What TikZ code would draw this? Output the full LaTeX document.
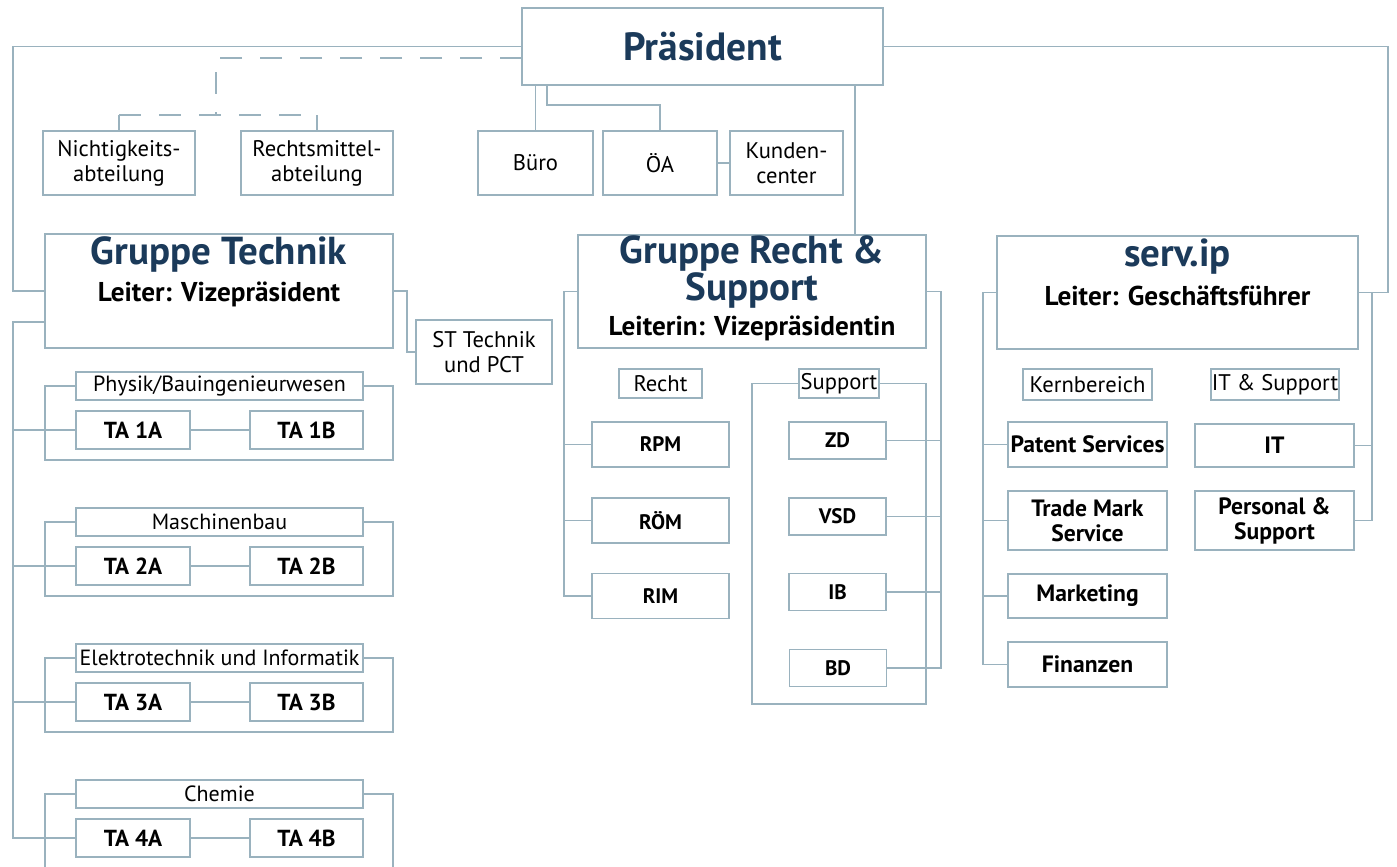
\documentclass[tikz,border=0pt]{standalone}
\usepackage{fontspec}
\setmainfont{PT Sans}

\definecolor{linie}{HTML}{9AB2BE}
\definecolor{titel}{HTML}{1B3A5A}

\tikzset{
  verb/.style={draw=linie, line width=0.9pt},
  verbd/.style={verb, dash pattern=on 11pt off 9pt},
  box/.style={draw=linie, line width=0.9pt, fill=white, inner sep=0pt, align=center,
    font=\fontsize{11.3}{12.5}\selectfont},
  klein/.style={box, minimum height=32pt},
  unit/.style={box, font=\bfseries\fontsize{10.5}{12}\selectfont},
  sipunit/.style={box, minimum width=79.5pt, font=\bfseries\fontsize{11.8}{12.5}\selectfont},
  ta/.style={box, minimum height=19pt, font=\bfseries\fontsize{11.6}{12}\selectfont},
  fachbox/.style={box, minimum width=143.5pt, minimum height=14pt, font=\fontsize{11}{12}\selectfont},
  gruppe/.style={inner sep=0pt, align=center, text=titel, font=\bfseries\fontsize{19.5}{16}\selectfont},
  leiter/.style={inner sep=0pt, font=\bfseries\fontsize{13.6}{15}\selectfont}
}

\begin{document}
\begin{tikzpicture}[x=0.5pt, y=-0.5pt]
  \path[use as bounding box] (0,0) rectangle (1397,867);

  % Praesident and staff units
  \node[box, minimum width=180.5pt, minimum height=38.5pt, text=titel,
    font=\bfseries\fontsize{19.7}{22}\selectfont] (pres) at (702.5,46.5) {Präsident};
  \node[klein, minimum width=76pt] (nicht) at (119,163) {Nichtigkeits-\\abteilung};
  \node[klein, minimum width=76pt] (rechts) at (317,163) {Rechtsmittel-\\abteilung};
  \node[klein, minimum width=57.5pt] (buero) at (535.5,163) {Büro};
  \node[klein, minimum width=57pt] (oea) at (660,163) {ÖA};
  \node[klein, minimum width=56.5pt] (kunden) at (786.5,163) {Kunden-\\center};

  % Gruppe Technik
  \node[box, minimum width=174pt, minimum height=57pt] (gt) at (219,291) {};
  \node[gruppe] (gtT) at (219,254) {Gruppe Technik};
  \node[leiter] (gtL) at (219,294) {Leiter: Vizepräsident};
  \node[klein, minimum width=68pt] (st) at (484,352) {ST Technik\\und PCT};

  % Gruppe Recht & Support
  \node[box, minimum width=174pt, minimum height=56.5pt] (grs) at (752,291.5) {};
  \node[gruppe] (grsT) at (752,272) {Gruppe Recht \&\\Support};
  \node[leiter] (grsL) at (752,328) {Leiterin: Vizepräsidentin};
  \node[box, minimum width=41.5pt, minimum height=14.5pt] (recht) at (660.5,383.5) {Recht};
  \node[unit, minimum width=68.5pt, minimum height=22.5pt] (rpm) at (660.5,444.5) {RPM};
  \node[unit, minimum width=68.5pt, minimum height=22.5pt] (roem) at (660.5,520.5) {RÖM};
  \node[unit, minimum width=68.5pt, minimum height=22.5pt] (rim) at (660.5,596) {RIM};
  \node[box, minimum width=40pt, minimum height=14.5pt] (support) at (839,383.5) {Support};
  \node[unit, minimum width=48.5pt, minimum height=18.5pt] (zd) at (837.5,440.5) {ZD};
  \node[unit, minimum width=48.5pt, minimum height=18.5pt] (vsd) at (837.5,516.5) {VSD};
  \node[unit, minimum width=48.5pt, minimum height=18.5pt] (ib) at (837.5,592) {IB};
  \node[unit, minimum width=48.5pt, minimum height=18.5pt] (bd) at (838,668) {BD};

  % serv.ip
  \node[box, minimum width=180.5pt, minimum height=56.5pt] (sip) at (1177.5,292.5) {};
  \node[gruppe] (sipT) at (1177.5,257) {serv.ip};
  \node[leiter] (sipL) at (1177.5,296) {Leiter: Geschäftsführer};
  \node[box, minimum width=64.5pt, minimum height=15.5pt] (kern) at (1087.5,384.5) {Kernbereich};
  \node[box, minimum width=64pt, minimum height=15.5pt] (itsup) at (1275,384.5) {IT \& Support};
  \node[sipunit, minimum height=22.5pt] (patent) at (1087.5,444.5) {Patent Services};
  \node[sipunit, minimum height=29.5pt] (trade) at (1087.5,520.5) {Trade Mark\\Service};
  \node[sipunit, minimum height=22pt] (mark) at (1087.5,596) {Marketing};
  \node[sipunit, minimum height=22.5pt] (fin) at (1087.5,664.5) {Finanzen};
  \node[sipunit, minimum height=21.5pt] (it) at (1274.5,445.5) {IT};
  \node[sipunit, minimum height=29.5pt] (pers) at (1274.5,520.5) {Personal \&\\Support};

  % Technische Abteilungen
  \coordinate (sp) at (13,322);
  \foreach \k/\nr/\fach in {0/1/{Physik/Bauingenieurwesen},1/2/Maschinenbau,
      2/3/{Elektrotechnik und Informatik},3/4/Chemie}{
    \pgfmathsetmacro\yl{386+136*\k}
    \pgfmathsetmacro\yt{430+136*\k}
    \pgfmathsetmacro\yb{460+136*\k}
    \node[fachbox] (fach\k) at (219.5,\yl) {\fach};
    \node[ta, minimum width=57pt] (tA\k) at (133,\yt) {TA \nr A};
    \node[ta, minimum width=56.5pt] (tB\k) at (306.5,\yt) {TA \nr B};
    \draw[verb] (fach\k.west) -| (45,\yb) -| (393,\yl) -- (fach\k.east);
    \draw[verb] (tA\k.east) -- (tB\k.west);
    \draw[verb] (sp |- tA\k.west) -- (tA\k.west);
  }
  \draw[verb] (gt.west |- sp) -- (sp) |- (tA3.west);

  % Verbindungen Praesident
  \coordinate (tl) at (13,291);
  \coordinate (tr) at (1388,292.5);
  \draw[verb] (pres.west) -| (tl) -- (gt.west);
  \draw[verb] (pres.east) -| (tr) -- (sip.east);
  \coordinate (ds) at (522,58);
  \coordinate (dv) at (216,115);
  \draw[verbd] (ds) -- (216,58) -- (dv);
  \draw[verbd] (nicht.north |- dv) -- (rechts.north |- dv);
  \draw[verb] (nicht.north |- dv) -- (nicht.north);
  \draw[verb] (rechts.north |- dv) -- (rechts.north);
  \draw[verb] (buero.north |- pres.south) -- (buero.north);
  \draw[verb] ([xshift=13pt]pres.south west) |- ([yshift=12.5pt]oea.north) -- (oea.north);
  \draw[verb] (oea.east) -- (kunden.west);
  \coordinate (grsin) at ([xshift=51.5pt]grs.north);
  \draw[verb] (grsin |- pres.south) -- (grsin);
  \coordinate (gs) at (407,291);
  \draw[verb] (gt.east) -- (gs) |- (st.west);

  % Recht & Support
  \coordinate (gl) at (564,291.5);
  \coordinate (gr) at (941,291.5);
  \draw[verb] (grs.west) -- (gl) |- (rim.west);
  \foreach \u in {rpm,roem}
    \draw[verb] (gl |- \u.west) -- (\u.west);
  \draw[verb] (grs.east) -- (gr) |- (bd.east);
  \foreach \u in {zd,vsd,ib}
    \draw[verb] (\u.east) -- (gr |- \u.east);
  \draw[verb] (support.west) -| (752,704) -| (926,383.5) -- (support.east);

  % serv.ip
  \coordinate (sl) at (983,292.5);
  \coordinate (sr) at (1372,292.5);
  \draw[verb] (sip.west) -- (sl) |- (fin.west);
  \foreach \u in {patent,trade,mark}
    \draw[verb] (sl |- \u.west) -- (\u.west);
  \draw[verb] (sip.east) -- (sr) |- (pers.east);
  \draw[verb] (it.east) -- (it.east -| sr);
\end{tikzpicture}
\end{document}
